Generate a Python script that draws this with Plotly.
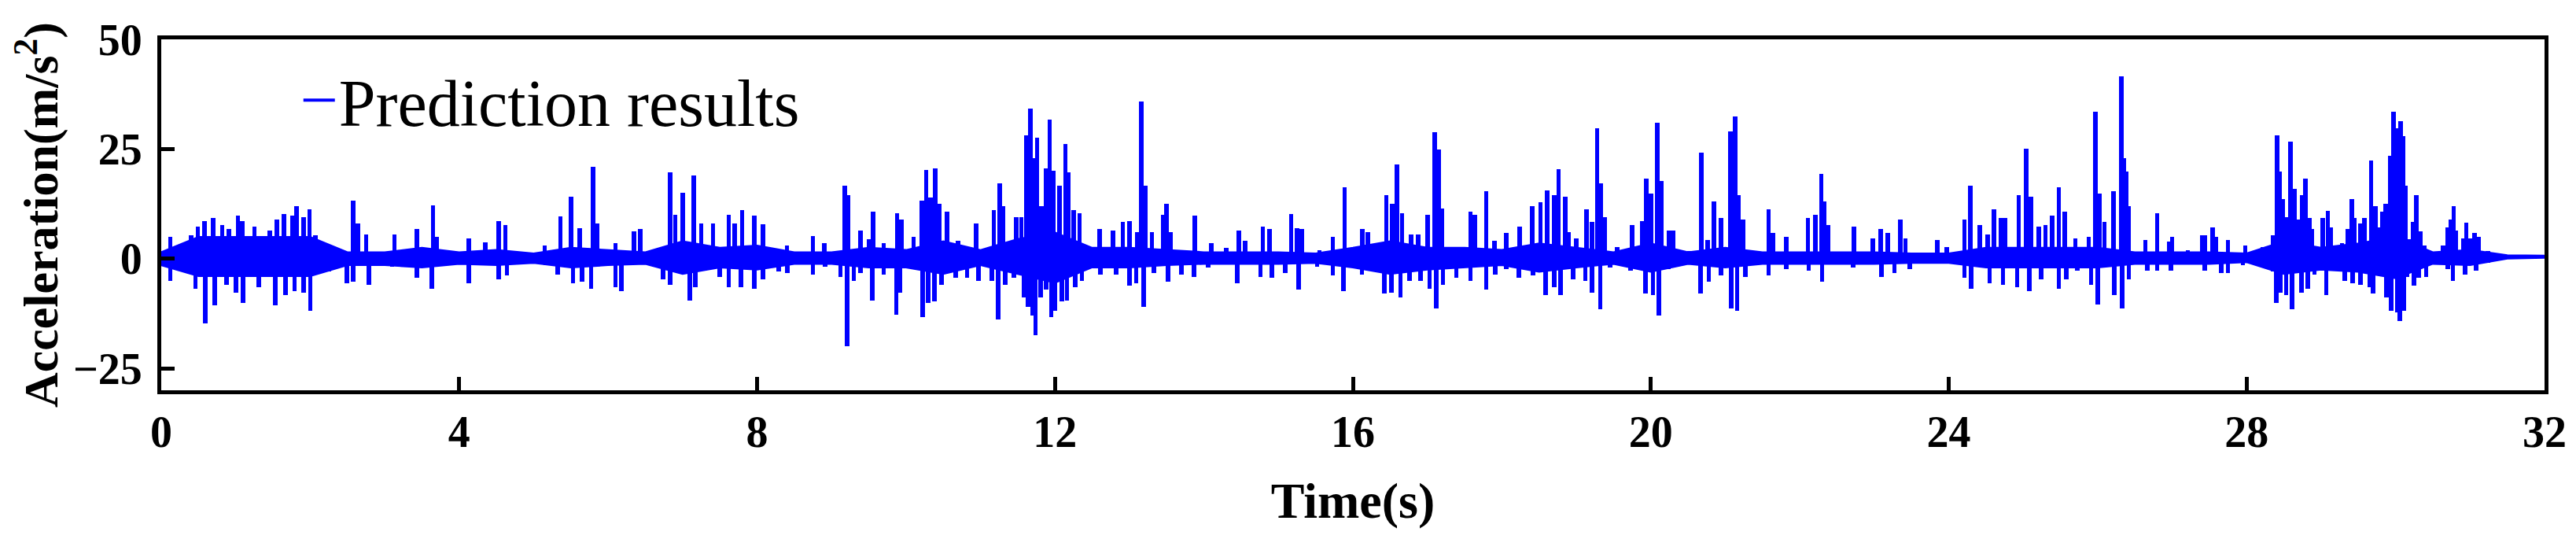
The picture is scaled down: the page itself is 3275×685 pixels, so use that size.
import plotly.graph_objects as go

# core band of the signal (read every 0.5 s)
env_t = [0, 0.5, 1, 1.5, 2, 2.5, 3, 3.5, 4, 4.5, 5, 5.5, 6, 6.5, 7, 7.5,
         8, 8.5, 9, 9.5, 10, 10.5, 11, 11.5, 12, 12.5, 13, 13.5, 14, 14.5, 15, 15.5,
         16, 16.5, 17, 17.5, 18, 18.5, 19, 19.5, 20, 20.5, 21, 21.5, 22, 22.5, 23, 23.5,
         24, 24.5, 25, 25.5, 26, 26.5, 27, 27.5, 28, 28.5, 29, 29.5, 30, 30.5, 31, 31.5, 32]
env_hi = [1.5, 5, 5, 5, 5, 1.5, 1.5, 2.5, 1.5, 2, 1.2, 2.5, 2, 1.5, 4, 2.5,
          3, 1.5, 1.5, 2.5, 2, 4, 2, 4.5, 6, 2.5, 2.5, 2, 1.5, 1.5, 1.5, 1.2,
          2.5, 4, 2.5, 2.5, 2, 3.5, 2.5, 1.5, 3.5, 1.5, 2.5, 1.5, 1.5, 1.5, 1.5, 1.2,
          1.2, 2.5, 2.5, 2.5, 2.5, 1.5, 1.5, 1.5, 1.2, 4, 2.5, 3.5, 5, 1.5, 2, 0.8, 0.7]
env_lo = [-1.5, -4, -4, -4, -4, -1.5, -1.5, -2, -1.2, -1.5, -1, -2, -1.5, -1.2, -3.5, -2,
          -2.5, -1.2, -1.2, -2, -2, -3.5, -1.5, -3.5, -5.5, -2, -2, -1.5, -1.2, -1.2, -1.2, -1,
          -2, -3.5, -2.5, -2, -1.5, -3, -2, -1.2, -3, -1.2, -2, -1.2, -1.2, -1.2, -1.2, -1,
          -1, -2, -2, -2, -2, -1.2, -1.2, -1.2, -0.8, -3.5, -2.5, -3, -4.5, -1.2, -1.5, 0, 0.2]

# positive peaks
up_t = [0.12, 0.4, 0.49, 0.58, 0.7, 0.82, 0.91, 1.03, 1.09, 1.25, 1.46, 1.55, 1.65, 1.76, 1.82, 1.91,
        1.99, 2.07, 2.58, 2.64, 2.75, 3.13, 3.43, 3.65, 3.7, 4.13, 4.35, 4.53, 4.62, 5.15, 5.36, 5.5,
        5.62, 5.8, 5.85, 6.1, 6.35, 6.43, 6.83, 6.9, 7.0, 7.15, 7.25, 7.41, 7.62, 7.7, 7.8, 7.96,
        8.08, 8.4, 8.75, 8.9, 9.18, 9.22, 9.39, 9.5, 9.56, 9.7, 9.88, 9.94, 10.1, 10.21, 10.27, 10.33,
        10.39, 10.45, 10.55, 10.7, 10.94, 11.18, 11.26, 11.3, 11.48, 11.55, 11.62, 11.67, 11.71, 11.76,
        11.82, 11.88, 11.93, 11.98, 12.06, 12.14, 12.18, 12.25, 12.33, 12.6, 12.78, 12.91, 13.0, 13.1,
        13.16, 13.21, 13.3, 13.45, 13.5, 13.55, 13.88, 14.1, 14.3, 14.47, 14.55, 14.79, 14.88, 15.17,
        15.25, 15.31, 15.55, 15.73, 15.89, 16.13, 16.2, 16.45, 16.53, 16.59, 16.66, 16.78, 16.88, 17.0,
        17.1, 17.15, 17.2, 17.45, 17.58, 17.64, 17.79, 17.9, 18.06, 18.24, 18.41, 18.52, 18.61, 18.7,
        18.76, 18.85, 18.9, 19.0, 19.14, 19.21, 19.28, 19.33, 19.38, 19.55, 19.75, 19.88, 19.94, 20.0,
        20.09, 20.14, 20.24, 20.3, 20.52, 20.68, 20.76, 20.85, 20.94, 21.07, 21.13, 21.18, 21.24, 21.58,
        21.64, 21.82, 22.11, 22.21, 22.29, 22.33, 22.38, 22.73, 22.98, 23.09, 23.18, 23.35, 23.42, 23.85,
        23.97, 24.21, 24.29, 24.42, 24.52, 24.61, 24.7, 24.76, 24.94, 25.04, 25.1, 25.21, 25.3, 25.39,
        25.48, 25.56, 25.7, 25.88, 25.97, 26.02, 26.09, 26.21, 26.32, 26.35, 26.38, 26.42, 26.64, 26.8,
        26.96, 27.0, 27.21, 27.4, 27.44, 27.54, 27.59, 27.75, 27.98, 28.22, 28.35, 28.41, 28.44, 28.49,
        28.54, 28.59, 28.64, 28.7, 28.75, 28.79, 28.84, 28.88, 29.02, 29.09, 29.13, 29.28, 29.36, 29.41,
        29.45, 29.53, 29.58, 29.67, 29.73, 29.77, 29.82, 29.87, 29.93, 29.97, 30.02, 30.07, 30.1, 30.13,
        30.17, 30.23, 30.28, 30.33, 30.39, 30.64, 30.7, 30.74, 30.78, 30.81, 30.91, 30.95, 31.0, 31.06,
        31.11, 31.24]
up_v = [5, 5.3, 7.4, 8.6, 9.2, 7.7, 6.8, 9.8, 8.6, 7.4, 6.5, 8.9, 10.1, 9.8, 11.9, 9.5,
        11.2, 5.3, 13.3, 8, 5.5, 5.6, 6.8, 12.2, 5, 4.7, 3.8, 8.6, 7.7, 3, 9.6, 14.2,
        7, 20.9, 8, 3.5, 6.2, 6.8, 19.6, 10, 15, 19, 8, 8, 10, 8, 11, 9.8,
        7.8, 3, 5.2, 3.5, 16.7, 14.5, 6.5, 4.5, 10.7, 3.5, 10.4, 8.9, 5, 13.3, 20.2, 14,
        20.5, 12.5, 10.7, 4, 8, 11, 17.1, 12, 9.5, 9.5, 28.2, 34.2, 23, 27.5,
        12, 20.5, 31.7, 20, 16.6, 26.2, 19.6, 11, 10.4, 6.8, 6.5, 8.3, 8.5, 6,
        35.8, 16.6, 6, 10, 12.5, 6, 9.8, 3.5, 2.5, 6.5, 4, 7.4, 6.8, 10.2,
        7, 6.8, 2, 5, 16.3, 6.8, 6, 14.5, 12.5, 21.4, 10.4, 5.6, 5.6, 10,
        28.8, 24.9, 11.5, 2.5, 10.7, 10, 15.4, 4, 5.9, 7.4, 12, 12.8, 15.6, 14.5,
        20.4, 14.1, 6, 4.7, 11.3, 8.3, 29.7, 17.2, 9.5, 2.7, 7.6, 8.6, 18.3, 14.8,
        31, 17.8, 6.5, 6.5, 1.8, 24.1, 4.2, 13, 9.2, 29, 32.4, 14.5, 8.9, 11.2,
        5.9, 5, 9.2, 10, 19.4, 13, 7.7, 7.4, 4.7, 6.8, 5.9, 9, 4.7, 4.2,
        2.7, 8.9, 16.6, 7.7, 5.6, 11.3, 9.2, 9.2, 14.4, 25.1, 14.2, 7.4, 7.7, 9.8,
        16.3, 10.7, 4.7, 5, 33.5, 14.8, 8.3, 15.4, 41.5, 23, 19.9, 11.9, 4.2, 10.4,
        3.9, 5, 2, 5.3, 5.3, 7.1, 5, 4.2, 3, 2.7, 5.3, 28.2, 19.9, 13.6,
        9.5, 26.6, 16, 8.9, 14.4, 18.3, 9.2, 6.8, 9.2, 10.9, 7.1, 3.6, 6.8, 13.5,
        9.2, 8, 9.2, 22.4, 11.9, 7.1, 10.7, 12.5, 23.4, 33.5, 29.7, 31.3, 27.9, 16.6,
        4.4, 8.3, 14.5, 6.2, 3, 3, 7.1, 8.9, 11.9, 6.5, 4.7, 8.2, 4.7, 5.9,
        5, 1.8]

# negative peaks
dn_t = [0.12, 0.46, 0.59, 0.72, 0.88, 1.0, 1.1, 1.31, 1.53, 1.67, 1.79, 1.91, 2.0, 2.25, 2.49, 2.58,
        2.79, 3.1, 3.43, 3.63, 4.13, 4.53, 4.64, 5.16, 5.32, 5.53, 5.65, 5.77, 6.1, 6.18, 6.74, 6.83,
        7.1, 7.17, 7.5, 7.62, 7.78, 7.96, 8.08, 8.29, 8.41, 8.75, 8.91, 9.12, 9.21, 9.3, 9.39, 9.55,
        9.7, 9.87, 9.92, 10.06, 10.22, 10.3, 10.38, 10.48, 10.67, 10.82, 10.97, 11.15, 11.24, 11.33,
        11.45, 11.58, 11.64, 11.7, 11.74, 11.81, 11.88, 11.95, 12.0, 12.09, 12.16, 12.27, 12.36, 12.61,
        12.82, 13.0, 13.09, 13.19, 13.33, 13.52, 13.7, 13.87, 14.06, 14.45, 14.76, 14.91, 15.09, 15.27,
        15.52, 15.73, 15.87, 16.12, 16.21, 16.42, 16.52, 16.64, 16.76, 16.91, 17.03, 17.12, 17.21, 17.39,
        17.58, 17.79, 17.91, 18.06, 18.23, 18.42, 18.59, 18.7, 18.79, 18.96, 19.12, 19.21, 19.32, 19.45,
        19.73, 19.93, 20.03, 20.11, 20.24, 20.67, 20.78, 20.94, 21.08, 21.16, 21.27, 21.58, 21.82, 22.12,
        22.3, 22.72, 23.1, 23.27, 23.48, 24.21, 24.3, 24.55, 24.73, 24.92, 25.08, 25.24, 25.48, 25.58,
        25.73, 25.91, 26.0, 26.22, 26.33, 26.42, 26.67, 26.8, 26.98, 27.15, 27.44, 27.66, 27.75, 27.95,
        28.22, 28.35, 28.4, 28.45, 28.53, 28.61, 28.74, 28.82, 28.91, 29.07, 29.19, 29.32, 29.42, 29.53,
        29.65, 29.7, 29.77, 29.88, 29.94, 30.02, 30.06, 30.11, 30.15, 30.25, 30.31, 30.41, 30.54, 30.7,
        30.77, 30.93, 31.08, 31.24]
dn_v = [-5, -6.8, -14.8, -10.7, -6, -7.7, -10, -6.5, -10.7, -8.3, -7.4, -7.7, -11.9, -3, -5.6, -5.3,
        -6, -1.8, -4.4, -6.8, -5.6, -4.7, -3.9, -1.5, -3.6, -5.6, -5.3, -6.8, -6.5, -7.4, -4.7, -6,
        -9.5, -6.5, -4.2, -6.5, -6.5, -6.8, -4.7, -3, -3.3, -3.6, -1.8, -4.2, -19.9, -5, -3.3, -9.5,
        -3.6, -12.8, -7.7, -1.5, -13.3, -10, -9.8, -6, -4.4, -4.4, -5, -5, -13.9, -6,
        -4.4, -8.9, -11, -13, -17.5, -8.9, -7.1, -13.3, -11.9, -9.8, -9.5, -6.5, -5, -3.6,
        -3.6, -6.2, -5.6, -11, -3.3, -5.3, -3.6, -4.2, -2.1, -5.6, -4.2, -4.4, -3.3, -7.1,
        -1.8, -3.9, -7.4, -3.6, -2.7, -8, -7.7, -8.9, -5, -5, -6.8, -11.3, -6, -4.4,
        -5, -7.1, -3.6, -2.4, -4.4, -3.9, -8.3, -6.5, -8.3, -4.7, -5, -7.7, -11.6, -2.1,
        -2.7, -8, -8.3, -13, -2.4, -8, -5.3, -3.9, -11.3, -11.9, -4.2, -3.9, -2.4, -2.7,
        -5.3, -2.1, -4.2, -3.3, -2.4, -4.4, -6.8, -5.6, -6, -6.5, -7.4, -4.7, -6.8, -4.7,
        -2.7, -6, -10.4, -8.3, -11.3, -4.7, -2.7, -2.7, -2.7, -0.9, -2.7, -3.3, -3.3, -1.5,
        -0.9, -3, -10.1, -7.7, -8.3, -11.6, -7.7, -6.8, -3.6, -8.3, -1.5, -5, -5.6, -6,
        -6.5, -8, -3, -8.9, -11.9, -12.2, -14.2, -11.9, -4.2, -6.2, -4.4, -4.2, -0.9, -2.4,
        -5, -3.6, -2.7, -0.9]

blue = '#0000FF'
font_family = 'Liberation Serif, Times New Roman, serif'

fig = go.Figure()

# dense core of the signal
fig.add_trace(
    go.Scatter(
        x=env_t + env_t[::-1],
        y=env_hi + env_lo[::-1],
        mode='lines',
        fill='toself',
        fillcolor=blue,
        line=dict(color=blue, width=2),
        showlegend=False,
        hoverinfo='skip'
    )
)

# individual spikes, up and down
fig.add_trace(
    go.Bar(
        x=up_t + dn_t,
        y=up_v + dn_v,
        width=0.06,
        marker=dict(color=blue, line=dict(width=0)),
        showlegend=False
    )
)

# legend entry
fig.add_trace(
    go.Scatter(
        x=[None], y=[None],
        mode='lines',
        line=dict(color=blue, width=4),
        name='Prediction results'
    )
)

axis_common = dict(
    showline=True,
    linecolor='black',
    linewidth=5,
    mirror=True,
    ticks='inside',
    ticklen=17,
    tickwidth=5,
    tickcolor='black',
    showgrid=False,
    zeroline=False,
    tickfont=dict(family=font_family, size=56, color='black', weight='bold'),
)

fig.update_layout(
    width=3275,
    height=685,
    margin=dict(l=197, r=48, t=39, b=197),
    paper_bgcolor='white',
    plot_bgcolor='white',
    barmode='overlay',
    bargap=0,
    font=dict(family=font_family, color='black'),
    xaxis=dict(
        range=[0, 32],
        tickvals=[0, 4, 8, 12, 16, 20, 24, 28, 32],
        title=dict(text='<b>Time(s)</b>', font=dict(family=font_family, size=64), standoff=35),
        ticklabelstandoff=0,
        **axis_common
    ),
    yaxis=dict(
        range=[-30, 50],
        tickvals=[-25, 0, 25, 50],
        title=dict(text='<b>Acceleration(m/s<sup>2</sup>)</b>',
                   font=dict(family=font_family, size=62), standoff=12),
        ticklabelstandoff=8,
        **axis_common
    ),
    legend=dict(
        x=0.058, y=0.826,
        xanchor='left', yanchor='middle',
        bgcolor='rgba(0,0,0,0)',
        font=dict(family=font_family, size=84, color='black'),
        itemwidth=40,
    ),
    showlegend=True,
)

fig.write_html("out.html")
